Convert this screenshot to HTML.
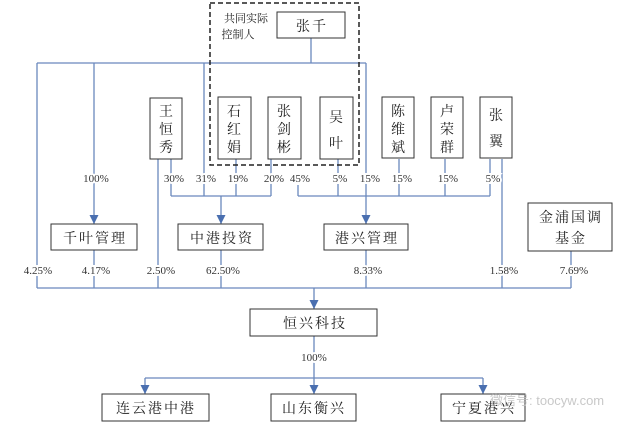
<!DOCTYPE html>
<html><head><meta charset="utf-8"><style>
html,body{margin:0;padding:0;background:#fff;width:640px;height:430px;overflow:hidden}
svg{display:block}
.b{fill:#fff;stroke:#333;stroke-width:1}
.l{stroke:#6a88bd;stroke-width:1.3;fill:none}
.t{font-family:"Noto Serif CJK SC","Liberation Serif",serif;fill:#222;text-anchor:middle}
.w{letter-spacing:2px}
.p{font-family:"Liberation Serif",serif;font-size:11px;fill:#333;text-anchor:middle;stroke:#fff;stroke-width:4;paint-order:stroke}
</style></head><body>
<svg width="640" height="430" viewBox="0 0 640 430" xmlns="http://www.w3.org/2000/svg">
<defs>
<marker id="d" viewBox="0 0 8 8" markerWidth="7" markerHeight="7" refX="4" refY="8" orient="0"><path d="M0,0 L8,0 L4,8 z" fill="#4a6fb0"/></marker></defs>
<g class="l">
<path d="M37,63 H366 M311,38 V63"/>
<path d="M37,63 V288"/>
<path d="M94,63 V224" marker-end="url(#d)"/>
<path d="M204,63 V196"/>
<path d="M366,63 V224" marker-end="url(#d)"/>
<path d="M158,159 V288 M171,159 V196 M236,159 V196 M271,159 V196 M298,185 V196 M338,159 V196 M399,159 V196 M445,159 V196 M490,159 V196 M502,159 V288"/>
<path d="M171,196 H271 M298,196 H490"/>
<path d="M221,196 V224" marker-end="url(#d)"/>
<path d="M94,250 V288 M221,250 V288 M366,250 V288 M571,251 V288 M37,288 H571"/>
<path d="M314,288 V309" marker-end="url(#d)"/>
<path d="M314,336 V394" marker-end="url(#d)"/>
<path d="M145,378 H483"/>
<path d="M145,378 V394" marker-end="url(#d)"/>
<path d="M483,378 V394" marker-end="url(#d)"/>
</g>
<rect x="210" y="3" width="149" height="162" fill="none" stroke="#222" stroke-width="1.5" stroke-dasharray="5,3"/>
<text class="t" x="246" y="22" font-size="11">共同实际</text>
<text class="t" x="238" y="38" font-size="11">控制人</text>
<rect class="b" x="277" y="12" width="68" height="26"/>
<text class="t w" x="312" y="31" font-size="14">张千</text>
<g>
<rect class="b" x="150" y="98" width="32" height="61"/><text class="t" x="166" y="116" font-size="14">王</text><text class="t" x="166" y="134" font-size="14">恒</text><text class="t" x="166" y="152" font-size="14">秀</text>
<rect class="b" x="218" y="97" width="33" height="62"/><text class="t" x="234" y="116" font-size="14">石</text><text class="t" x="234" y="134" font-size="14">红</text><text class="t" x="234" y="152" font-size="14">娟</text>
<rect class="b" x="268" y="97" width="33" height="62"/><text class="t" x="284" y="116" font-size="14">张</text><text class="t" x="284" y="134" font-size="14">剑</text><text class="t" x="284" y="152" font-size="14">彬</text>
<rect class="b" x="320" y="97" width="33" height="62"/><text class="t" x="336" y="122" font-size="14">吴</text><text class="t" x="336" y="148" font-size="14">叶</text>
<rect class="b" x="382" y="97" width="32" height="61"/><text class="t" x="398" y="116" font-size="14">陈</text><text class="t" x="398" y="134" font-size="14">维</text><text class="t" x="398" y="152" font-size="14">斌</text>
<rect class="b" x="431" y="97" width="32" height="61"/><text class="t" x="447" y="116" font-size="14">卢</text><text class="t" x="447" y="134" font-size="14">荣</text><text class="t" x="447" y="152" font-size="14">群</text>
<rect class="b" x="480" y="97" width="32" height="61"/><text class="t" x="496" y="120" font-size="14">张</text><text class="t" x="496" y="146" font-size="14">翼</text>
</g>
<g>
<text class="p" x="96" y="182">100%</text>
<text class="p" x="174" y="182">30%</text>
<text class="p" x="206" y="182">31%</text>
<text class="p" x="238" y="182">19%</text>
<text class="p" x="274" y="182">20%</text>
<text class="p" x="300" y="182">45%</text>
<text class="p" x="340" y="182">5%</text>
<text class="p" x="370" y="182">15%</text>
<text class="p" x="402" y="182">15%</text>
<text class="p" x="448" y="182">15%</text>
<text class="p" x="493" y="182">5%</text>
</g>
<rect class="b" x="51" y="224" width="86" height="26"/><text class="t w" x="95" y="243" font-size="14">千叶管理</text>
<rect class="b" x="178" y="224" width="85" height="26" stroke-width="2" stroke="#111"/><text class="t w" x="222" y="243" font-size="14">中港投资</text>
<rect class="b" x="324" y="224" width="84" height="26"/><text class="t w" x="367" y="243" font-size="14">港兴管理</text>
<rect class="b" x="528" y="203" width="84" height="48"/><text class="t w" x="571" y="222" font-size="14">金浦国调</text><text class="t w" x="571" y="243" font-size="14">基金</text>
<g>
<text class="p" x="38" y="274">4.25%</text>
<text class="p" x="96" y="274">4.17%</text>
<text class="p" x="161" y="274">2.50%</text>
<text class="p" x="223" y="274">62.50%</text>
<text class="p" x="368" y="274">8.33%</text>
<text class="p" x="504" y="274">1.58%</text>
<text class="p" x="574" y="274">7.69%</text>
</g>
<rect class="b" x="250" y="309" width="127" height="27" stroke-width="2" stroke="#111"/><text class="t w" x="315" y="328" font-size="14">恒兴科技</text>
<text class="p" x="314" y="361">100%</text>
<rect class="b" x="102" y="394" width="107" height="27"/><text class="t w" x="156" y="413" font-size="14">连云港中港</text>
<rect class="b" x="271" y="394" width="85" height="27"/><text class="t w" x="314" y="413" font-size="14">山东衡兴</text>
<rect class="b" x="441" y="394" width="84" height="27"/><text class="t w" x="484" y="413" font-size="14">宁夏港兴</text>
<text x="490" y="405" font-family="Liberation Sans,Noto Sans CJK SC,sans-serif" font-size="13" fill="#bbb" opacity="0.8">微信号: toocyw.com</text>
</svg>
</body></html>
